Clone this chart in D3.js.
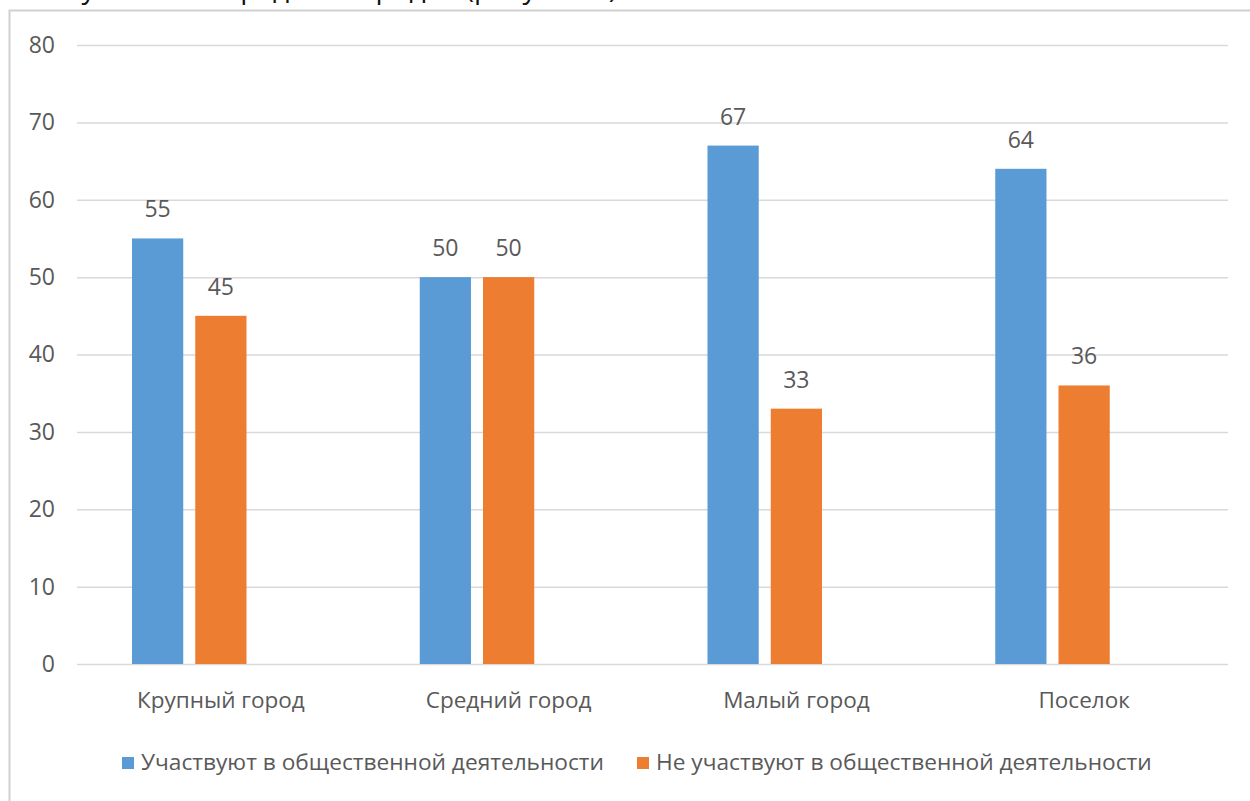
<!DOCTYPE html>
<html>
<head>
<meta charset="utf-8">
<script src="https://cdn.jsdelivr.net/npm/d3@7"></script>
<style>
  html, body { margin: 0; padding: 0; background: #fff; }
  svg { display: block; }
  text { font-family: "Open Sans", "Noto Sans", sans-serif; }
</style>
</head>
<body>
<svg id="chart" width="1250" height="801"></svg>
<script>
// Settlement types and share of respondents (%) by participation in public activity
const categories = ["Крупный город", "Средний город", "Малый город", "Поселок"];
const seriesNames = ["Участвуют в общественной деятельности", "Не участвуют в общественной деятельности"];
const participate = [55, 50, 67, 64];
const notParticipate = [45, 50, 33, 36];
const yTicks = [0, 10, 20, 30, 40, 50, 60, 70, 80];
const colors = ["#5b9bd5", "#ed7d31"];

const series = [participate, notParticipate];

const svg = d3.select("#chart");
const textColor = "#595959";

// Fragment of the paragraph above the chart, mostly hidden behind the frame
svg.append("clipPath").attr("id", "topClip")
  .append("rect").attr("x", 0).attr("y", 0).attr("width", 1250).attr("height", 9);
svg.append("text")
  .attr("clip-path", "url(#topClip)")
  .attr("x", 617).attr("y", -2)
  .attr("text-anchor", "end")
  .attr("font-size", 28)
  .attr("fill", "#111")
  .text("у жителей средних городов (рисунок 7)");

// Chart area frame
svg.append("rect")
  .attr("x", 9.5).attr("y", 10.5)
  .attr("width", 1400).attr("height", 900)
  .attr("fill", "#fff")
  .attr("stroke", "#d0d0d0")
  .attr("stroke-width", 2);

const plot = { left: 77, right: 1228, top: 45, bottom: 664 };

const y = d3.scaleLinear().domain([0, 80]).range([plot.bottom, plot.top]);
const x = d3.scaleBand().domain(categories).range([plot.left, plot.right]).padding(0);
// Three slots per category; the third one stays empty
const xInner = d3.scaleBand()
  .domain([0, 1, 2])
  .range([55, x.bandwidth() - 55])
  .paddingInner(0.19)
  .paddingOuter(0);

// Gridlines
const yAxis = d3.axisLeft(y).tickValues(yTicks).tickSize(-(plot.right - plot.left)).tickPadding(22);
const gy = svg.append("g").attr("transform", `translate(${plot.left},0)`).call(yAxis);
gy.select(".domain").remove();
gy.selectAll(".tick line").attr("stroke", "#d9d9d9").attr("stroke-width", 1.5);
gy.selectAll(".tick text")
  .attr("fill", textColor)
  .attr("font-size", 23)
  .attr("font-family", "'Open Sans', 'Noto Sans', sans-serif");

// Bars
series.forEach((vals, si) => {
  svg.append("g").selectAll("rect")
    .data(vals)
    .join("rect")
    .attr("x", (d, i) => x(categories[i]) + xInner(si))
    .attr("width", xInner.bandwidth())
    .attr("y", d => y(d))
    .attr("height", d => y(0) - y(d))
    .attr("fill", colors[si]);

  svg.append("g").selectAll("text")
    .data(vals)
    .join("text")
    .attr("x", (d, i) => x(categories[i]) + xInner(si) + xInner.bandwidth() / 2)
    .attr("y", d => y(d) - 21)
    .attr("text-anchor", "middle")
    .attr("font-size", 23)
    .attr("fill", textColor)
    .text(d => d);
});

// Category axis labels
const xAxis = d3.axisBottom(x).tickSize(0).tickPadding(0);
const gx = svg.append("g").attr("transform", `translate(0,${plot.bottom})`).call(xAxis);
gx.select(".domain").remove();
gx.selectAll(".tick text")
  .attr("fill", textColor)
  .attr("font-size", 22.5)
  .attr("font-family", "'Open Sans', 'Noto Sans', sans-serif")
  .attr("dy", 0)
  .attr("y", 44);

// Legend
const legendX = [122, 637];
const legend = svg.append("g");
seriesNames.forEach((name, i) => {
  legend.append("rect")
    .attr("x", legendX[i]).attr("y", 757)
    .attr("width", 12).attr("height", 12)
    .attr("fill", colors[i]);
  legend.append("text")
    .attr("x", legendX[i] + 19).attr("y", 770)
    .attr("font-size", 22.7)
    .attr("fill", textColor)
    .text(name);
});
</script>
</body>
</html>
